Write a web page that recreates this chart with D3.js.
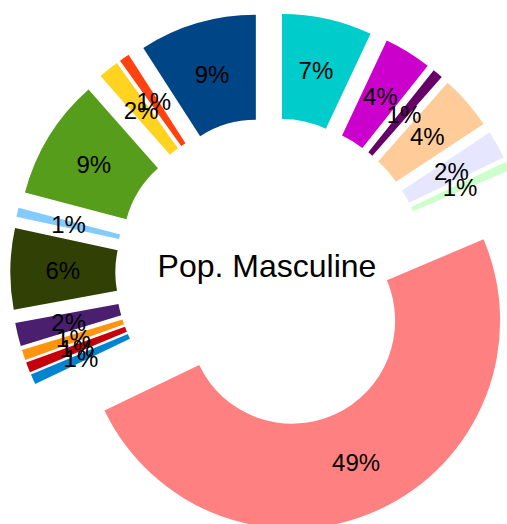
<!DOCTYPE html>
<html>
<head>
<meta charset="utf-8">
<script src="https://cdn.jsdelivr.net/npm/d3@7"></script>
<style>
  html, body { margin: 0; padding: 0; background: #ffffff; overflow: hidden; }
  svg { display: block; }
</style>
</head>
<body>
<svg id="chart" width="507" height="524"></svg>
<script>
// Data (clockwise from 12 o'clock)
const title = "Pop. Masculine";
const categories = ["C1","C2","C3","C4","C5","C6","C7","C8","C9","C10","C11","C12","C13","C14","C15","C16","C17"];
const values = [7.0, 3.7, 0.8, 4.2, 2.2, 0.7, 49.3, 0.8, 0.8, 0.8, 1.8, 6.3, 0.7, 9.4, 1.6, 0.8, 9.1];
const colors = ["#00cccc","#cc00cc","#660066","#ffcc99","#e6e6ff","#ccffcc","#ff8080","#0084d1","#c5000b","#ff950e","#4b1f6f","#314004","#83caff","#579d1c","#ffd320","#ff420e","#004586"];

const svg = d3.select("#chart");
const cx = 270.6, cy = 273;
const innerR = 103, outerR = 208, explode = 52.3;

const total = d3.sum(values);
const data = categories.map((c, i) => ({ name: c, value: values[i], color: colors[i] }));
const pie = d3.pie().sort(null).value(d => d.value).startAngle(0).endAngle(2 * Math.PI);
const arcs = pie(data);
const arc = d3.arc().innerRadius(innerR).outerRadius(outerR);

function offset(d) {
  const m = (d.startAngle + d.endAngle) / 2;
  return [explode * Math.sin(m), -explode * Math.cos(m)];
}

const g = svg.append("g").attr("transform", `translate(${cx},${cy})`);

g.selectAll("path.slice").data(arcs).join("path")
  .attr("class", "slice")
  .attr("d", arc)
  .attr("fill", d => d.data.color)
  .attr("transform", d => { const o = offset(d); return `translate(${o[0]},${o[1]})`; });

g.selectAll("text.lbl").data(arcs).join("text")
  .attr("class", "lbl")
  .attr("x", d => arc.centroid(d)[0] + offset(d)[0])
  .attr("y", d => arc.centroid(d)[1] + offset(d)[1])
  .attr("dy", "0.37em")
  .attr("text-anchor", "middle")
  .attr("font-family", "'Liberation Sans', Arial, sans-serif")
  .attr("font-size", 24)
  .attr("fill", "#000")
  .text(d => Math.round(d.data.value / total * 100) + "%");

svg.append("text")
  .attr("x", 267)
  .attr("y", 277)
  .attr("text-anchor", "middle")
  .attr("font-family", "'Liberation Sans', Arial, sans-serif")
  .attr("font-size", 32)
  .attr("fill", "#000")
  .text(title);
</script>
</body>
</html>
